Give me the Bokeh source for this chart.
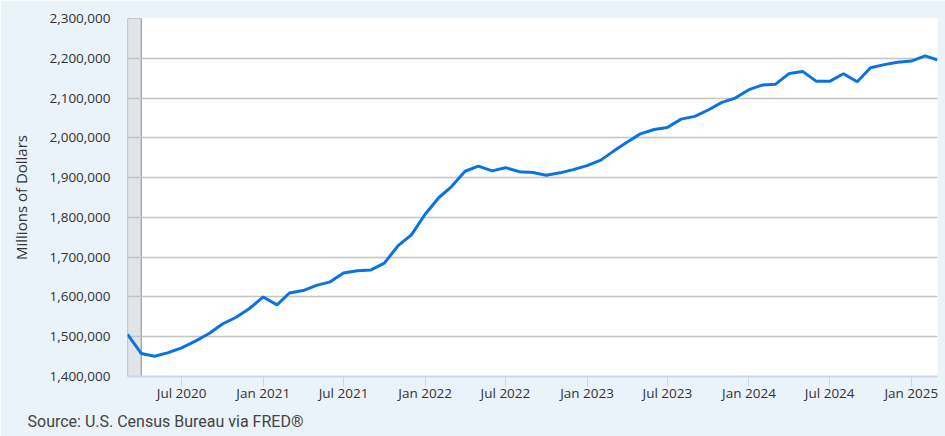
import pandas as pd
from bokeh.plotting import figure
from bokeh.models import (Range1d, FixedTicker, NumeralTickFormatter,
                          DatetimeTickFormatter, Title, ColumnDataSource)
from bokeh.embed import file_html
from bokeh.resources import INLINE

# monthly values, millions of dollars, Mar 2020 - Mar 2025
values = [1506000, 1458000, 1451000, 1460000, 1472000, 1489000, 1508000,
          1532000, 1549000, 1571000, 1600000, 1580000, 1610000, 1616000,
          1629000, 1638000, 1660000, 1666000, 1668000, 1685000, 1729000,
          1756000, 1808000, 1850000, 1877000, 1916000, 1929000, 1917000,
          1925000, 1915000, 1913000, 1906000, 1912000, 1920000, 1930000,
          1944000, 1966000, 1989000, 2010000, 2021000, 2026000, 2047000,
          2054000, 2070000, 2089000, 2100000, 2121000, 2133000, 2135000,
          2162000, 2167000, 2142000, 2142000, 2161000, 2141000, 2176000,
          2184000, 2190000, 2193000, 2206000, 2196000]
dates = pd.date_range("2020-03-01", periods=len(values), freq="MS")

recession_start = [pd.Timestamp("2020-03-01")]
recession_end = [pd.Timestamp("2020-04-01")]

x_ticks = pd.date_range("2020-07-01", "2025-01-01", freq="6MS")
y_ticks = list(range(1400000, 2300001, 100000))

bg = "#eaf2fa"

p = figure(width=945, height=436, x_axis_type="datetime",
           output_backend="svg", toolbar_location=None,
           x_range=Range1d(dates[0], dates[-1]),
           y_range=Range1d(1400000, 2300000),
           min_border_left=127, min_border_right=8,
           min_border_top=18, min_border_bottom=59)
p.background_fill_color = "white"
p.border_fill_color = bg
p.outline_line_color = None

p.quad(left=recession_start, right=recession_end, bottom=1400000, top=2300000,
       fill_color="#e1e5ea", line_color="#9a9a9a", line_width=1.2, level="image")

src = ColumnDataSource(dict(date=dates, value=values))
p.line("date", "value", source=src, line_color="#0b73e1", line_width=3)

p.xgrid.grid_line_color = None
p.ygrid.grid_line_color = "#c4c4c4"
p.ygrid.grid_line_width = 1.5

p.yaxis.ticker = FixedTicker(ticks=y_ticks)
p.yaxis.formatter = NumeralTickFormatter(format="0,0")
p.yaxis.axis_line_color = None
p.yaxis.major_tick_line_color = None
p.yaxis.minor_tick_line_color = None
p.yaxis.major_label_standoff = 11
p.yaxis.major_label_text_baseline = "bottom"
p.yaxis.major_label_text_font = "Open Sans"
p.yaxis.major_label_text_font_size = "13.5px"
p.yaxis.major_label_text_color = "#333333"
p.yaxis.axis_label = "Millions of Dollars"
p.yaxis.axis_label_text_font = "Open Sans"
p.yaxis.axis_label_text_font_style = "normal"
p.yaxis.axis_label_text_font_size = "15px"
p.yaxis.axis_label_text_color = "#333333"
p.yaxis.axis_label_standoff = 15

p.xaxis.ticker = FixedTicker(ticks=[t.timestamp() * 1000 for t in x_ticks])
p.xaxis.formatter = DatetimeTickFormatter(days="%b %Y", months="%b %Y",
                                          years="%b %Y")
p.xaxis.axis_line_color = "#ccd6eb"
p.xaxis.axis_line_width = 2
p.xaxis.major_tick_line_color = "#ccd6eb"
p.xaxis.major_tick_in = 0
p.xaxis.major_tick_out = 10
p.xaxis.minor_tick_line_color = None
p.xaxis.major_label_standoff = -3
p.xaxis.major_label_text_font = "Open Sans"
p.xaxis.major_label_text_font_size = "13.5px"
p.xaxis.major_label_text_color = "#333333"

# source line under the x axis, pulled left to the page edge
p.add_layout(Title(text="Source: U.S. Census Bureau via FRED®", align="left",
                   offset=-100, standoff=11, text_font="Roboto",
                   text_font_size="16px", text_font_style="normal",
                   text_color="#444444"), "below")

open("out.html", "w").write(file_html(p, INLINE))
